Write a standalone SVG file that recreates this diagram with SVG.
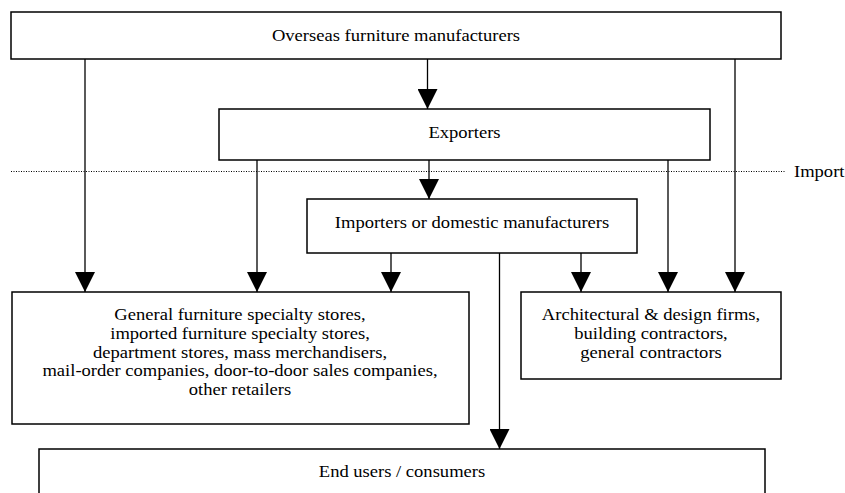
<svg xmlns="http://www.w3.org/2000/svg" width="845" height="493" viewBox="0 0 845 493">
<defs>
<style>
.box{fill:#fff;stroke:#000;stroke-width:1.5}
.ln{fill:none;stroke:#000;stroke-width:1.3}
.dot{fill:none;stroke:#000;stroke-width:1;stroke-dasharray:1 1.5}
</style>
<marker id="ah" markerWidth="20" markerHeight="20" viewBox="0 0 20 20" refX="20" refY="10" orient="auto" markerUnits="userSpaceOnUse">
<path d="M0,0 L20,10 L0,20 Z" fill="#000"/>
</marker>
</defs>
<rect width="845" height="493" fill="#fff"/>
<g id="import-line">
<line class="dot" x1="11" y1="171.5" x2="786" y2="171.5"/>
<text transform="translate(794,176.5) scale(1.16,1)" font-family="Liberation Serif, Times New Roman, serif" font-size="16" text-anchor="start">Import</text>
</g>
<g id="connectors">
<line class="ln" x1="427.5" y1="59" x2="427.5" y2="109" marker-end="url(#ah)"/>
<line class="ln" x1="85" y1="59" x2="85" y2="292" marker-end="url(#ah)"/>
<line class="ln" x1="735" y1="59" x2="735" y2="292" marker-end="url(#ah)"/>
<line class="ln" x1="257" y1="160" x2="257" y2="292" marker-end="url(#ah)"/>
<line class="ln" x1="668" y1="160" x2="668" y2="292" marker-end="url(#ah)"/>
<line class="ln" x1="429" y1="160" x2="429" y2="199" marker-end="url(#ah)"/>
<line class="ln" x1="391" y1="253" x2="391" y2="292" marker-end="url(#ah)"/>
<line class="ln" x1="581" y1="253" x2="581" y2="292" marker-end="url(#ah)"/>
<line class="ln" x1="499.5" y1="253" x2="499.5" y2="449" marker-end="url(#ah)"/>
</g>
<g font-family="Liberation Serif, Times New Roman, serif" font-size="16" text-anchor="middle" fill="#000">
<g id="overseas">
<rect class="box" x="11" y="12" width="770" height="47"/>
<text transform="translate(396,41) scale(1.16,1)">Overseas furniture manufacturers</text>
</g>
<g id="exporters">
<rect class="box" x="219" y="109" width="491" height="51"/>
<text transform="translate(464.5,138) scale(1.16,1)">Exporters</text>
</g>
<g id="importers">
<rect class="box" x="307" y="199" width="330" height="54"/>
<text transform="translate(472,228) scale(1.16,1)">Importers or domestic manufacturers</text>
</g>
<g id="retailers">
<rect class="box" x="12" y="292" width="457" height="132"/>
<text transform="translate(240,320) scale(1.16,1)">General furniture specialty stores,</text>
<text transform="translate(240,339) scale(1.16,1)">imported furniture specialty stores,</text>
<text transform="translate(240,357.5) scale(1.16,1)">department stores, mass merchandisers,</text>
<text transform="translate(240,376) scale(1.16,1)">mail-order companies, door-to-door sales companies,</text>
<text transform="translate(240,395) scale(1.16,1)">other retailers</text>
</g>
<g id="architects">
<rect class="box" x="521" y="292" width="260" height="87"/>
<text transform="translate(651,320) scale(1.16,1)">Architectural &amp; design firms,</text>
<text transform="translate(651,339) scale(1.16,1)">building contractors,</text>
<text transform="translate(651,357.5) scale(1.16,1)">general contractors</text>
</g>
<g id="end-users">
<rect class="box" x="39" y="449" width="726" height="60"/>
<text transform="translate(402,477) scale(1.16,1)">End users / consumers</text>
</g>
</g>
</svg>
